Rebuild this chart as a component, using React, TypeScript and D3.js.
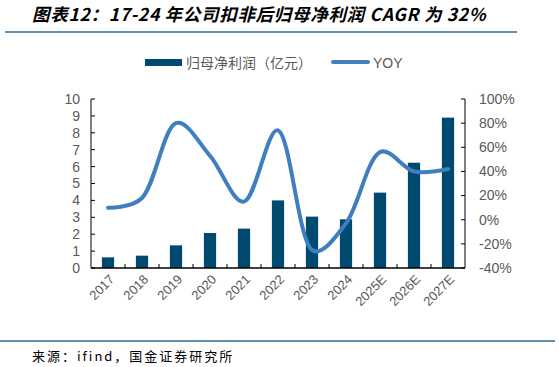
import { useEffect, useRef } from 'react';
import * as d3 from 'd3';

const years = ['2017', '2018', '2019', '2020', '2021', '2022', '2023', '2024', '2025E', '2026E', '2027E'];
const profit = [0.63, 0.73, 1.34, 2.07, 2.33, 4.0, 3.04, 2.88, 4.46, 6.23, 8.9];
const yoy = [10, 18, 80, 53, 15, 74, -25, -3, 56, 40, 42];
const leftTicks = [0, 1, 2, 3, 4, 5, 6, 7, 8, 9, 10];
const rightTicks = [-40, -20, 0, 20, 40, 60, 80, 100];

const W = 559;
const H = 367;

export default function App() {
  const svgRef = useRef<SVGSVGElement>(null);

  useEffect(() => {
    const svg = d3.select(svgRef.current);
    svg.selectAll('*').remove();

    const left = 91;
    const right = 465;
    const top = 99;
    const bottom = 268;
    const grey = '#595959';
    const numFont = '"Liberation Sans", Arial, sans-serif';
    const cjk = '"Noto Sans CJK SC", sans-serif';

    // title
    svg.append('text')
      .attr('x', 32)
      .attr('y', 21)
      .attr('fill', '#000')
      .style('font-family', cjk)
      .style('font-size', '17.5px')
      .style('font-weight', 'bold')
      .style('font-style', 'italic')
      .style('letter-spacing', '0.7px')
      .text('图表12：17-24 年公司扣非后归母净利润 CAGR 为 32%');

    svg.append('line')
      .attr('x1', 5).attr('x2', 517)
      .attr('y1', 32).attr('y2', 32)
      .attr('stroke', '#2c6a8c')
      .attr('stroke-width', 1.5);

    const x = d3.scaleBand().domain(years).range([left, right]).paddingInner(0.64).paddingOuter(0.32);
    const yL = d3.scaleLinear().domain([0, 10]).range([bottom, top]);
    const yR = d3.scaleLinear().domain([-40, 100]).range([bottom, top]);
    const cx = (d: string) => (x(d) ?? 0) + x.bandwidth() / 2;

    // bars
    svg.append('g')
      .selectAll('rect')
      .data(years)
      .join('rect')
      .attr('x', d => x(d) ?? 0)
      .attr('width', x.bandwidth())
      .attr('y', (d, i) => yL(profit[i]))
      .attr('height', (d, i) => bottom - yL(profit[i]))
      .attr('fill', '#004a70');

    // line
    const line = d3.line<number>()
      .x((d, i) => cx(years[i]))
      .y(d => yR(d))
      .curve(d3.curveCatmullRom.alpha(0.3));

    svg.append('path')
      .datum(yoy)
      .attr('d', line)
      .attr('fill', 'none')
      .attr('stroke', '#3f7fbf')
      .attr('stroke-width', 4)
      .attr('stroke-linecap', 'round');

    // left axis
    svg.append('line')
      .attr('x1', left).attr('x2', left)
      .attr('y1', top).attr('y2', bottom)
      .attr('stroke', '#000');
    leftTicks.forEach(t => {
      svg.append('line')
        .attr('x1', left).attr('x2', left + 4)
        .attr('y1', yL(t)).attr('y2', yL(t))
        .attr('stroke', '#000');
      svg.append('text')
        .attr('x', 80)
        .attr('y', yL(t))
        .attr('dy', '0.35em')
        .attr('text-anchor', 'end')
        .attr('fill', grey)
        .style('font-family', numFont)
        .style('font-size', '14px')
        .text(t);
    });

    // right axis
    svg.append('line')
      .attr('x1', right).attr('x2', right)
      .attr('y1', top).attr('y2', bottom)
      .attr('stroke', '#000');
    rightTicks.forEach(t => {
      svg.append('line')
        .attr('x1', right - 4).attr('x2', right)
        .attr('y1', yR(t)).attr('y2', yR(t))
        .attr('stroke', '#000');
      svg.append('text')
        .attr('x', 479)
        .attr('y', yR(t))
        .attr('dy', '0.35em')
        .attr('fill', grey)
        .style('font-family', numFont)
        .style('font-size', '14px')
        .text(`${t}%`);
    });

    // bottom axis
    svg.append('line')
      .attr('x1', left).attr('x2', right)
      .attr('y1', bottom).attr('y2', bottom)
      .attr('stroke', '#000')
      .attr('stroke-width', 1.5);
    const step = x.step();
    years.forEach((d, i) => {
      if (i > 0) {
        svg.append('line')
          .attr('x1', cx(d) - step / 2).attr('x2', cx(d) - step / 2)
          .attr('y1', bottom).attr('y2', bottom - 4)
          .attr('stroke', '#000');
      }
      svg.append('text')
        .attr('transform', `translate(${cx(d) + 4},${bottom + 9}) rotate(-45)`)
        .attr('text-anchor', 'end')
        .attr('dy', '0.35em')
        .attr('fill', grey)
        .style('font-family', numFont)
        .style('font-size', '13px')
        .text(d);
    });

    // legend
    const lg = svg.append('g');
    lg.append('rect')
      .attr('x', 145).attr('y', 59)
      .attr('width', 37).attr('height', 7)
      .attr('fill', '#004a70');
    lg.append('text')
      .attr('x', 186).attr('y', 63)
      .attr('dy', '0.35em')
      .attr('fill', grey)
      .style('font-family', cjk)
      .style('font-size', '14px')
      .text('归母净利润（亿元）');
    lg.append('line')
      .attr('x1', 333).attr('x2', 368)
      .attr('y1', 62).attr('y2', 62)
      .attr('stroke', '#3f7fbf')
      .attr('stroke-width', 4)
      .attr('stroke-linecap', 'round');
    lg.append('text')
      .attr('x', 373).attr('y', 63)
      .attr('dy', '0.35em')
      .attr('fill', grey)
      .style('font-family', numFont)
      .style('font-size', '14px')
      .text('YOY');

    // footer
    svg.append('line')
      .attr('x1', 0).attr('x2', 555)
      .attr('y1', 341).attr('y2', 341)
      .attr('stroke', '#2c6a8c')
      .attr('stroke-width', 1.5);
    svg.append('text')
      .attr('x', 32).attr('y', 356)
      .attr('dy', '0.35em')
      .attr('fill', '#000')
      .style('font-family', '"Noto Sans CJK SC", monospace')
      .style('font-size', '13px')
      .style('letter-spacing', '2px')
      .text('来源：ifind，国金证券研究所');
  }, []);

  return (
    <svg
      ref={svgRef}
      width={W}
      height={H}
      style={{ position: 'absolute', left: 0, top: 0, background: '#fff' }}
    />
  );
}
